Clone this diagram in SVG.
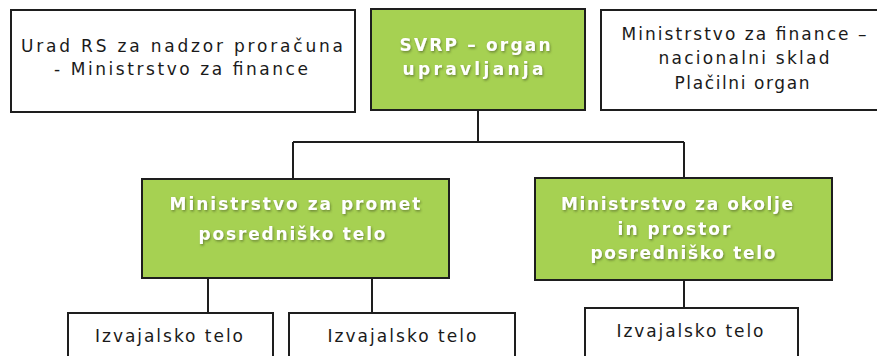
<svg xmlns="http://www.w3.org/2000/svg" width="877" height="356" viewBox="0 0 877 356">
<defs>
<style>
.box{fill:#ffffff;stroke:#1e1e1e;stroke-width:2}
.gbox{fill:#a6d152;stroke:#1e1e1e;stroke-width:2}
.t{font-family:"DejaVu Sans",Verdana,sans-serif;font-size:17px;fill:#1a1a1a;text-anchor:middle}
.b{font-family:"DejaVu Sans",Verdana,sans-serif;font-size:17px;font-weight:bold;fill:#ffffff;text-anchor:middle;filter:url(#sh)}
.c{fill:none;stroke:#1e1e1e;stroke-width:2}
</style>
<filter id="sh" x="-10%" y="-30%" width="120%" height="160%">
<feDropShadow dx="1" dy="1.5" stdDeviation="1" flood-color="#3a4a1a" flood-opacity="0.55"/>
</filter>
</defs>
<g id="connectors">
<path class="c" d="M478 110 V142 M293 142 H684 M293 142 V179 M684 142 V178 M208 278 V313 M372 278 V313 M684 280 V308"/>
</g>
<g id="urad">
<rect class="box" x="11" y="10" width="344" height="102"/>
<text class="t" x="182" y="52" textLength="322" lengthAdjust="spacing">Urad RS za nadzor proračuna</text>
<text class="t" x="181" y="75" textLength="254" lengthAdjust="spacing">- Ministrstvo za finance</text>
</g>
<g id="svrp">
<rect class="gbox" x="371" y="9" width="214" height="101"/>
<text class="b" x="475" y="51" textLength="151" lengthAdjust="spacing">SVRP – organ</text>
<text class="b" x="473" y="75" textLength="141" lengthAdjust="spacing">upravljanja</text>
</g>
<g id="mf">
<rect class="box" x="601" y="10" width="290" height="100"/>
<text class="t" x="744" y="40" textLength="245" lengthAdjust="spacing">Ministrstvo za finance –</text>
<text class="t" x="744" y="64" textLength="171" lengthAdjust="spacing">nacionalni sklad</text>
<text class="t" x="742" y="89" textLength="135" lengthAdjust="spacing">Plačilni organ</text>
</g>
<g id="promet">
<rect class="gbox" x="142" y="179" width="307" height="99"/>
<text class="b" x="295" y="210" textLength="251" lengthAdjust="spacing">Ministrstvo za promet</text>
<text class="b" x="292" y="240" textLength="187" lengthAdjust="spacing">posredniško telo</text>
</g>
<g id="okolje">
<rect class="gbox" x="535" y="178" width="297" height="102"/>
<text class="b" x="677" y="210" textLength="232" lengthAdjust="spacing">Ministrstvo za okolje</text>
<text class="b" x="674" y="235" textLength="113" lengthAdjust="spacing">in prostor</text>
<text class="b" x="683" y="259" textLength="185" lengthAdjust="spacing">posredniško telo</text>
</g>
<g id="izv1">
<rect class="box" x="68" y="313" width="205" height="60"/>
<text class="t" x="169" y="342" textLength="148" lengthAdjust="spacing">Izvajalsko telo</text>
</g>
<g id="izv2">
<rect class="box" x="289" y="313" width="226" height="60"/>
<text class="t" x="402" y="342" textLength="149" lengthAdjust="spacing">Izvajalsko telo</text>
</g>
<g id="izv3">
<rect class="box" x="585" y="308" width="213" height="60"/>
<text class="t" x="690" y="337" textLength="147" lengthAdjust="spacing">Izvajalsko telo</text>
</g>
</svg>
